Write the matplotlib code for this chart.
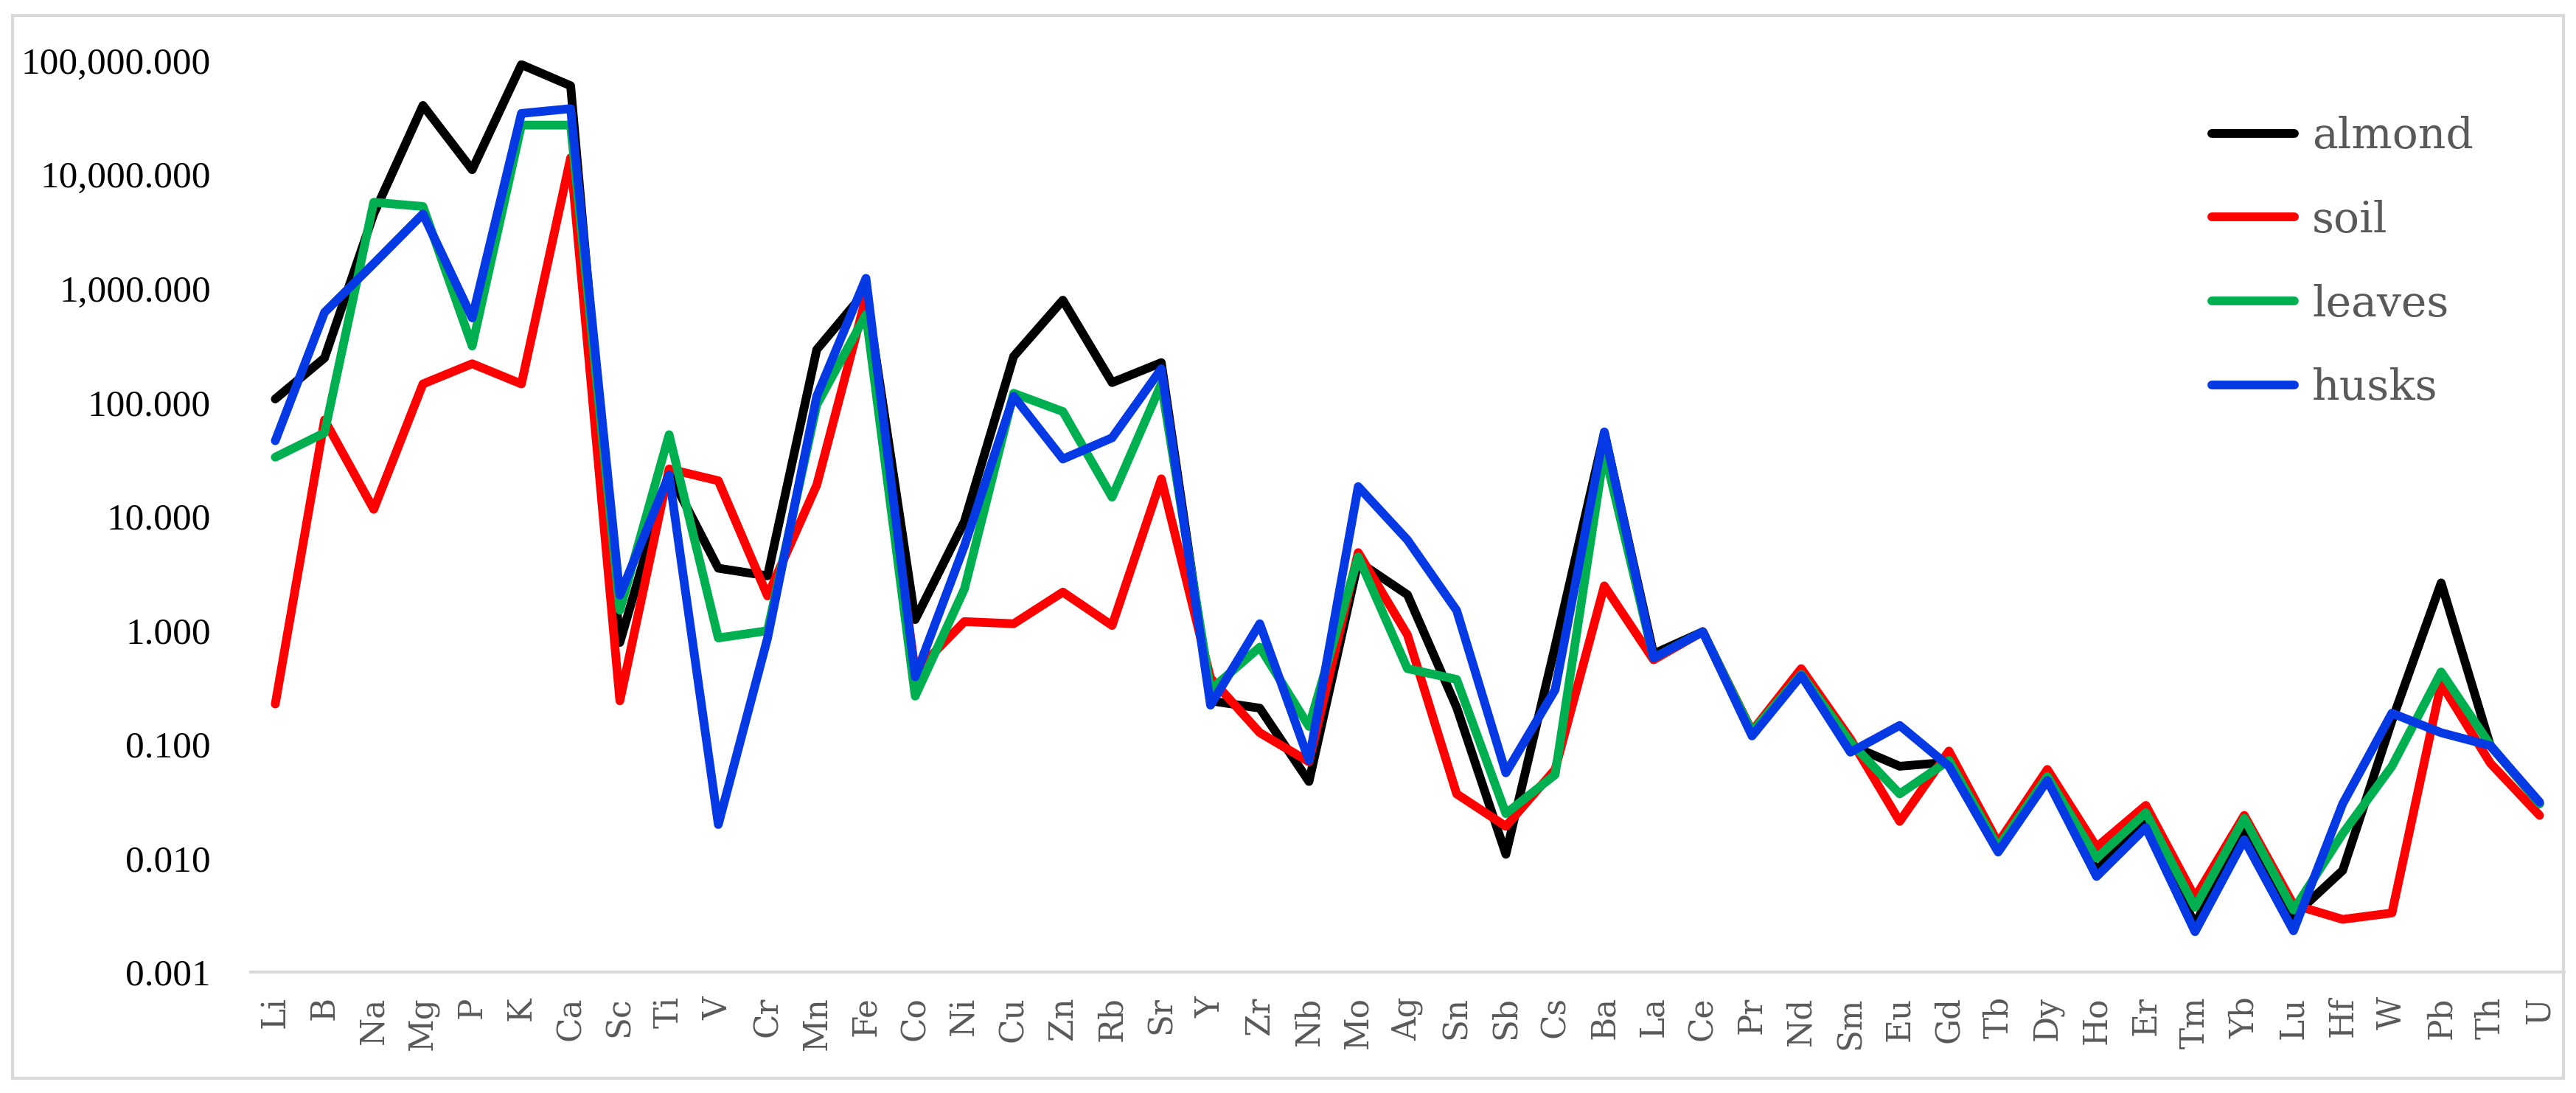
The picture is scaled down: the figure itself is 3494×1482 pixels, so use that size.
import matplotlib
matplotlib.use("Agg")
import matplotlib.pyplot as plt
from matplotlib.ticker import FixedLocator, FuncFormatter
from matplotlib.patches import Rectangle

elements = ["Li", "B", "Na", "Mg", "P", "K", "Ca", "Sc", "Ti", "V", "Cr", "Mn", "Fe", "Co",
            "Ni", "Cu", "Zn", "Rb", "Sr", "Y", "Zr", "Nb", "Mo", "Ag", "Sn", "Sb", "Cs", "Ba",
            "La", "Ce", "Pr", "Nd", "Sm", "Eu", "Gd", "Tb", "Dy", "Ho", "Er", "Tm", "Yb", "Lu",
            "Hf", "W", "Pb", "Th", "U"]

almond = [107, 245, 4500, 40300, 11000, 92000, 60000, 0.78, 24, 3.5, 3.0, 290, 950, 1.24,
          9.0, 253, 788, 149, 223, 0.24, 0.207, 0.047, 4.0, 2.05, 0.21, 0.0108, 0.72, 54,
          0.62, 0.97, 0.125, 0.41, 0.098, 0.064, 0.0695, 0.012, 0.05, 0.0078, 0.021, 0.0026,
          0.0185, 0.0031, 0.0078, 0.16, 2.6, 0.097, 0.03]

soil = [0.225, 70, 11.5, 145, 218, 145, 14000, 0.24, 26, 20.5, 2.0, 18.8, 830, 0.43,
        1.19, 1.14, 2.16, 1.10, 21.3, 0.38, 0.126, 0.07, 4.8, 0.91, 0.0366, 0.019, 0.06, 2.45,
        0.55, 0.97, 0.13, 0.46, 0.111, 0.021, 0.087, 0.0136, 0.06, 0.0125, 0.029, 0.0045,
        0.0237, 0.0039, 0.0029, 0.0033, 0.34, 0.068, 0.0237]

leaves = [33, 54, 5700, 5230, 312, 27100, 27100, 1.5, 52, 0.855, 0.99, 95, 590, 0.264,
          2.3, 120, 83, 14.7, 145, 0.30, 0.71, 0.143, 4.4, 0.46, 0.37, 0.0246, 0.054, 37,
          0.57, 0.97, 0.128, 0.41, 0.104, 0.0366, 0.072, 0.0125, 0.052, 0.010, 0.025, 0.0037,
          0.0223, 0.0035, 0.0164, 0.064, 0.43, 0.098, 0.030]

husks = [46, 615, 1650, 4500, 551, 34300, 37800, 2.03, 23, 0.0197, 0.85, 113, 1225, 0.39,
         5.5, 113, 31.8, 48.8, 197, 0.22, 1.14, 0.072, 18.2, 6.2, 1.49, 0.056, 0.30, 55,
         0.57, 0.97, 0.118, 0.40, 0.085, 0.146, 0.064, 0.0113, 0.048, 0.0069, 0.0185, 0.00226,
         0.0145, 0.0023, 0.030, 0.187, 0.126, 0.097, 0.031]

series_names = ["almond", "soil", "leaves", "husks"]
series_colors = ["#000000", "#FF0000", "#00B050", "#0539E3"]
ytick_values = [0.001, 0.01, 0.1, 1, 10, 100, 1000, 10000, 100000]

W, H, DPI = 3494, 1482, 300
fig = plt.figure(figsize=(W / DPI, H / DPI), dpi=DPI)
fig.patch.set_facecolor("white")

# light gray chart border
fig.patches.append(Rectangle((17 / W, 1 - 1462 / H), (3477 - 17) / W, (1462 - 21) / H,
                             transform=fig.transFigure, fill=False,
                             edgecolor="#D9D9D9", linewidth=1.0, zorder=0))

ax = fig.add_axes([340 / W, 1 - 1318 / H, (3478 - 340) / W, (1318 - 82) / H])
x = list(range(len(elements)))
for name, vals, col in zip(series_names, [almond, soil, leaves, husks], series_colors):
    ax.plot(x, vals, color=col, lw=2.85, label=name,
            solid_capstyle="round", solid_joinstyle="round")

ax.set_yscale("log")
ax.set_ylim(1e-3, 1e5)
ax.set_xlim(-0.5, len(elements) - 0.5)
ax.yaxis.set_major_locator(FixedLocator(ytick_values))
ax.yaxis.set_minor_locator(FixedLocator([]))
ax.yaxis.set_major_formatter(FuncFormatter(lambda v, p: f"{v:,.3f}"))
ax.set_xticks(x)
ax.set_xticklabels(elements, rotation=90, fontsize=10.5, color="#595959",
                   fontfamily="DejaVu Serif")
for lab in ax.get_yticklabels():
    lab.set_fontfamily("Liberation Serif")
    lab.set_fontsize(12.3)
    lab.set_color("#000000")
ax.tick_params(axis="both", which="both", length=0)
ax.tick_params(axis="y", pad=13)
ax.tick_params(axis="x", pad=8)

for s in ["top", "right", "left"]:
    ax.spines[s].set_visible(False)
ax.spines["bottom"].set_color("#D9D9D9")
ax.spines["bottom"].set_linewidth(1.0)

leg = fig.legend(loc="upper left", bbox_to_anchor=(3000 / W, 1 - 157 / H),
                 frameon=False, handlelength=1.92, handletextpad=0.41,
                 labelspacing=0.99, borderpad=0, borderaxespad=0,
                 prop={"family": "DejaVu Serif", "size": 14})
for t in leg.get_texts():
    t.set_color("#595959")
for h in leg.get_lines():
    h.set_linewidth(2.85)
    h.set_solid_capstyle("round")

fig.savefig("out.png", dpi=DPI, facecolor="white")
